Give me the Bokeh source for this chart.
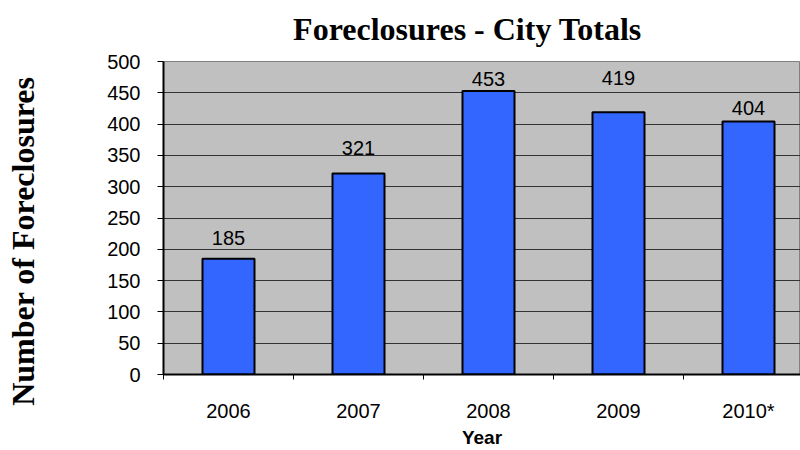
from bokeh.plotting import figure
from bokeh.models import Range1d, FixedTicker, ColumnDataSource
from bokeh.core.properties import value
from bokeh.embed import file_html
from bokeh.resources import INLINE

# ---- data ----
years = ["2006", "2007", "2008", "2009", "2010*"]
foreclosures = [185, 321, 453, 419, 404]
y_ticks = [0, 50, 100, 150, 200, 250, 300, 350, 400, 450, 500]

# style: pixel gap between each data label and its bar top
label_gaps = [21, 26, 12, 34, 14]

centers = [i + 0.5 for i in range(len(years))]
bounds = list(range(len(years)))

src = ColumnDataSource(dict(
    x=centers,
    top=foreclosures,
    txt=[str(v) for v in foreclosures],
    yoff=[-g for g in label_gaps],
))

p = figure(width=800, height=450, output_backend="svg", toolbar_location=None,
           x_range=Range1d(0, 4.9), y_range=Range1d(0, 500))
p.min_border_left = 163
p.min_border_right = 0
p.min_border_top = 61
p.min_border_bottom = 75
p.background_fill_color = "#C0C0C0"
p.border_fill_color = "white"
p.outline_line_color = "#808080"

p.vbar(x="x", top="top", width=0.4, source=src,
       fill_color="#3366FF", line_color="black", line_width=2)

p.text(x="x", y="top", text="txt", y_offset="yoff", source=src,
       text_align="center", text_baseline="alphabetic",
       text_font=value("Liberation Sans"), text_font_size="20px",
       text_color="black")

# y axis
ya = p.yaxis[0]
ya.ticker = FixedTicker(ticks=y_ticks)
ya.major_label_text_font = "Liberation Sans"
ya.major_label_text_font_size = "20px"
ya.major_label_text_color = "black"
ya.major_tick_out = 6
ya.major_tick_in = 0
ya.minor_tick_out = 0
ya.minor_tick_in = 0
ya.axis_line_width = 2
ya.axis_line_color = "black"
ya.major_label_standoff = 17

# x axis
xa = p.xaxis[0]
xa.ticker = FixedTicker(ticks=centers, minor_ticks=bounds)
xa.major_label_overrides = {c: y for c, y in zip(centers, years)}
xa.major_label_text_font = "Liberation Sans"
xa.major_label_text_font_size = "20px"
xa.major_label_text_color = "black"
xa.major_tick_out = 0
xa.major_tick_in = 0
xa.minor_tick_out = 5
xa.minor_tick_in = 0
xa.minor_tick_line_color = "black"
xa.axis_line_width = 2
xa.axis_line_color = "black"
xa.major_label_standoff = 20
xa.axis_label = "Year"
xa.axis_label_text_font = "Liberation Sans"
xa.axis_label_text_font_size = "19px"
xa.axis_label_text_font_style = "bold"
xa.axis_label_text_color = "black"
xa.axis_label_standoff = 2

# grid
p.xgrid.grid_line_color = None
p.ygrid.ticker = FixedTicker(ticks=y_ticks)
p.ygrid.grid_line_color = "#333333"
p.ygrid.grid_line_width = 1

# chart title, drawn above the frame
p.text(x=[2.338], y=[552], text=["Foreclosures - City Totals"],
       text_align="center", text_baseline="middle",
       text_font=value("Liberation Serif"), text_font_size="32px",
       text_font_style="bold", text_color="black", level="annotation")

# y-axis title (rotated), drawn left of the frame
p.text(x=[-1.077], y=[213], text=["Number of Foreclosures"], angle=1.5708,
       text_align="center", text_baseline="middle",
       text_font=value("Liberation Serif"), text_font_size="32px",
       text_font_style="bold", text_color="black", level="annotation")

open("out.html", "w").write(file_html(p, INLINE))
